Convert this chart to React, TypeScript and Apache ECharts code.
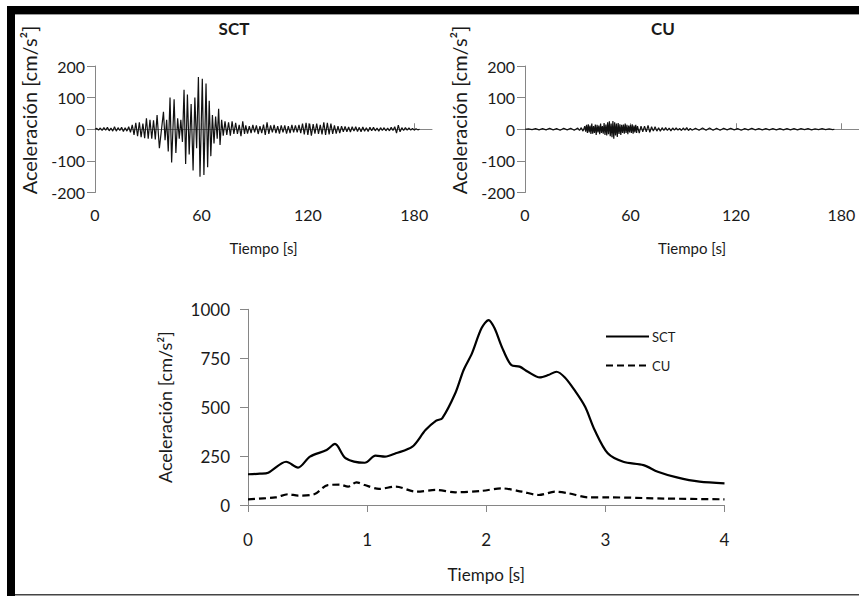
import React, { useEffect, useRef } from "react";
import * as echarts from "echarts";

// Top-left: SCT acceleration record [time s, acc cm/s2]
const sctTrace: [number, number][] = [
  [0,0],[1,3],[2,-3],[3,4],[4,-4],[5,5],[6,-3],[7,6],[8,-5],[9,4],[10,-6],[11,8],[12,-6],[13,5],[14,-4],[15,6],[16,-7],[17,5],[18,-6],[19,8],
  [20,-10],[21,14],[22,-18],[23,20],[24,-22],[25,22],[26,-25],[27,18],[28,-28],[29,35],[30,-30],[31,30],[32,-30],[33,28],[34,-32],[35,45],
  [36.3,-60],[38.6,55],[39.5,-35],[40.4,30],[41.3,-70],[42.3,100],[43.2,-105],[44.6,95],[45.6,-75],[46.6,35],[47.5,-30],[48.4,30],[49.3,-40],
  [50.2,125],[51.1,-110],[52.1,110],[53.1,-80],[54.2,80],[55.3,-130],[56.3,100],[57.3,-60],[58.3,165],[59.2,-150],[60.5,160],[61.4,-145],
  [62.6,145],[63.5,-120],[64.4,90],[65.3,-85],[66.2,45],[67.1,-45],[68,40],[68.9,-30],[69.7,65],[70.5,-50],[71.4,30],[72.3,-20],[73.3,25],
  [74.3,-18],[75.3,22],[76.3,-20],[77.3,25],[78.3,-15],[79.3,20],[80.3,-15],[81.3,14],[82.3,-22],[83.3,25],[84.3,-15],
  [85,12],[86,-14],[87,10],[88,-12],[89,14],[90,-10],[91,12],[92,-15],[93,10],[94,-12],[95,15],[96,-18],[97,22],[98,-15],[99,12],
  [100,-10],[101,14],[102,-12],[103,10],[104,-14],[105,12],[106,-10],[107,12],[108,-14],[109,10],[110,-12],[111,14],[112,-10],[113,12],
  [114,-10],[115,14],[116,-12],[117,18],[118,-16],[119,20],[120,-18],[121,18],[122,-20],[123,16],[124,-14],[125,18],[126,-15],[127,14],
  [128,-16],[129,22],[130,-18],[131,20],[132,-16],[133,18],[134,-15],[135,12],[136,-14],[137,10],[138,-12],[139,10],[140,-8],[141,9],
  [142,-8],[143,7],[144,-9],[145,8],[146,-6],[147,8],[148,-7],[149,6],[150,-8],[151,7],[152,-6],[153,5],[154,-7],[155,6],[156,-5],
  [157,6],[158,-5],[159,4],[160,-6],[161,5],[162,-4],[163,5],[164,-5],[165,4],[166,-5],[167,6],[168,-4],[169,8],[170,-12],[171,13],
  [172,-8],[173,5],[174,-4],[175,5],[176,-3],[177,4],[178,-3],[179,3],[180,-3],[181,2],[182,-2],[183,0]
];

// Top-right: CU acceleration record [time s, acc cm/s2]
const cuTrace: [number, number][] = [
  [0,0],[2,1],[4,-1],[6,2],[8,-2],[10,2],[12,-2],[14,3],[16,-2],[18,2],[20,-3],[22,3],[24,-2],[26,3],[28,-3],[30,4],[31,-4],[32,5],[33,-6],
  [34,10],[34.5,-8],[35,14],[35.5,-12],[36,16],[36.5,-10],[37,12],[37.5,-15],[38,18],[38.5,-14],[39,10],[39.5,-12],[40,15],[40.5,-18],
  [41,14],[41.5,-10],[42,12],[42.5,-16],[43,18],[43.5,-12],[44,10],[44.5,-14],[45,20],[45.5,-18],[46,15],[46.5,-20],[47,22],[47.5,-16],
  [48,25],[48.5,-22],[49,18],[49.5,-25],[50,26],[50.5,-30],[51,22],[51.5,-20],[52,18],[52.5,-24],[53,20],[53.5,-15],[54,16],[54.5,-18],
  [55,14],[55.5,-12],[56,15],[56.5,-14],[57,18],[57.5,-12],[58,14],[58.5,-16],[59,12],[59.5,-10],[60,14],[60.5,-12],[61,16],[61.5,-14],
  [62,12],[62.5,-10],[63,14],[63.5,-12],[64,10],[65,-12],[66,10],[67,-8],[68,10],[69,-8],[70,12],[71,-10],[72,8],[73,-6],[74,8],[75,-6],
  [76,5],[77,-6],[78,5],[79,-4],[80,5],[81,-4],[82,4],[83,-5],[84,4],[85,-3],[86,4],[87,-3],[88,3],[89,-4],[90,4],[91,-3],[92,5],[93,-4],
  [94,3],[95,-3],[97,3],[99,-3],[101,4],[103,-3],[105,4],[107,-3],[109,3],[111,-3],[113,3],[115,-2],[117,3],[119,-2],[121,2],[123,-3],
  [125,2],[127,-2],[129,3],[131,-2],[133,2],[135,-2],[137,2],[139,-2],[141,2],[143,-2],[145,2],[147,-2],[149,2],[151,-2],[153,2],[155,-2],
  [157,2],[159,-1],[161,2],[163,-2],[165,1],[167,-1],[169,2],[171,-1],[173,1],[175,-1],[176,0]
];

// Bottom: response spectra
const sctSpecT = [0, 0.1, 0.17, 0.32, 0.42, 0.52, 0.66, 0.73, 0.82, 0.98, 1.07, 1.15, 1.24, 1.38, 1.49, 1.58, 1.63, 1.74, 1.81, 1.88, 1.96, 2.02, 2.07, 2.13, 2.21, 2.28, 2.35, 2.45, 2.52, 2.59, 2.66, 2.74, 2.83, 2.91, 3.02, 3.15, 3.32, 3.44, 3.6, 3.79, 4.0];
const sctSpecA = [157, 160, 165, 221, 191, 247, 281, 312, 239, 216, 252, 247, 264, 298, 383, 431, 443, 571, 690, 775, 903, 945, 903, 809, 715, 707, 681, 652, 664, 681, 652, 588, 502, 383, 264, 221, 204, 170, 141, 119, 111];
const cuSpecT = [0, 0.23, 0.34, 0.42, 0.56, 0.67, 0.77, 0.84, 0.91, 0.98, 1.1, 1.24, 1.41, 1.58, 1.74, 1.96, 2.13, 2.3, 2.44, 2.58, 2.69, 2.86, 3.02, 3.5, 4.0];
const cuSpecA = [29, 39, 55, 48, 56, 102, 104, 94, 116, 102, 82, 94, 68, 77, 65, 72, 85, 68, 51, 68, 60, 39, 39, 33, 29];

const topTimeTicks = [0, 60, 120, 180];
const topAccTicks = [-200, -100, 0, 100, 200];
const yTitle = "Aceleración [cm/s²]";

const FONT = "Lato";
const TXT = "#1a1a1a";
const AXC = "#868686";

export default function App() {
  const ref = useRef<HTMLDivElement>(null);
  useEffect(() => {
    if (!ref.current) return;
    const chart = echarts.init(ref.current, undefined, { renderer: "svg" });
    const topX = (idx: number) => ({
      type: "value",
      gridIndex: idx,
      min: 0,
      max: 190,
      name: "Tiempo [s]",
      nameLocation: "middle",
      nameGap: 48,
      nameTextStyle: { fontSize: 15, color: TXT, fontFamily: FONT },
      axisLine: { show: true, lineStyle: { color: AXC, width: 1 } },
      axisTick: { show: true, inside: true, length: 6, customValues: topTimeTicks, lineStyle: { color: AXC } },
      axisLabel: { customValues: topTimeTicks, margin: 14, fontSize: 16, color: TXT, fontFamily: FONT },
      splitLine: { show: false },
    });
    const topY = (idx: number) => ({
      type: "value",
      gridIndex: idx,
      min: topAccTicks[0],
      max: topAccTicks[topAccTicks.length - 1],
      interval: 100,
      axisLine: { show: true, lineStyle: { color: AXC, width: 1 } },
      axisTick: { show: true, inside: false, length: 8, lineStyle: { color: AXC } },
      axisLabel: { margin: 10, fontSize: 16, color: TXT, fontFamily: FONT },
      splitLine: { show: false },
    });
    const yTitleText = (x: number, y: number, size: number) => ({
      type: "text",
      x,
      y,
      rotation: Math.PI / 2,
      style: {
        text: yTitle,
        fontSize: size,
        fontFamily: FONT,
        fill: TXT,
        align: "center",
        verticalAlign: "middle",
      },
    });
    const option: any = {
      animation: false,
      backgroundColor: "#ffffff",
      textStyle: { fontFamily: FONT },
      title: [
        { text: "SCT", left: 229, top: 15, textAlign: "center", textStyle: { fontSize: 17, fontWeight: "bold", color: TXT, fontFamily: FONT } },
        { text: "CU", left: 658, top: 15, textAlign: "center", textStyle: { fontSize: 17, fontWeight: "bold", color: TXT, fontFamily: FONT } },
      ],
      legend: {
        data: ["SCT", "CU"],
        orient: "vertical",
        left: 600,
        top: 325,
        itemWidth: 43,
        itemHeight: 14,
        itemGap: 16,
        itemStyle: { opacity: 0 },
        textStyle: { fontSize: 13, color: TXT, fontFamily: FONT, padding: [0, 0, 0, -2] },
      },
      grid: [
        { left: 95, top: 66, width: 337, height: 126.5 },
        { left: 525, top: 66, width: 337, height: 126.5 },
        { left: 248, top: 309.3, width: 476.5, height: 195.7 },
      ],
      xAxis: [
        topX(0),
        topX(1),
        {
          type: "value",
          gridIndex: 2,
          min: 0,
          max: 4,
          interval: 1,
          name: "Tiempo [s]",
          nameLocation: "middle",
          nameGap: 61,
          nameTextStyle: { fontSize: 17, color: TXT, fontFamily: FONT },
          axisLine: { show: true, lineStyle: { color: AXC, width: 1 } },
          axisTick: { show: true, inside: false, length: 7, lineStyle: { color: AXC } },
          axisLabel: { margin: 26, fontSize: 17, color: TXT, fontFamily: FONT },
          splitLine: { show: false },
        },
      ],
      yAxis: [
        topY(0),
        topY(1),
        {
          type: "value",
          gridIndex: 2,
          min: 0,
          max: 1000,
          interval: 250,
          name: yTitle,
          nameLocation: "middle",
          nameRotate: 90,
          nameGap: 74,
          nameTextStyle: { fontSize: 18, color: TXT, fontFamily: FONT },
          axisLine: { show: true, lineStyle: { color: AXC, width: 1 } },
          axisTick: { show: true, inside: false, length: 8, lineStyle: { color: AXC } },
          axisLabel: { margin: 18, fontSize: 17, color: TXT, fontFamily: FONT, formatter: (v: number) => String(v) },
          splitLine: { show: false },
        },
      ],
      series: [
        {
          name: "SCT registro",
          type: "line",
          xAxisIndex: 0,
          yAxisIndex: 0,
          data: sctTrace,
          symbol: "none",
          silent: true,
          lineStyle: { color: "#111", width: 1.2 },
        },
        {
          name: "CU registro",
          type: "line",
          xAxisIndex: 1,
          yAxisIndex: 1,
          data: cuTrace,
          symbol: "none",
          silent: true,
          lineStyle: { color: "#111", width: 1.2 },
        },
        {
          name: "SCT",
          type: "line",
          xAxisIndex: 2,
          yAxisIndex: 2,
          data: sctSpecT.map((t, i) => [t, sctSpecA[i]]),
          symbol: "none",
          smooth: 0.3,
          itemStyle: { color: "#000" },
          lineStyle: { color: "#000", width: 2.2 },
        },
        {
          name: "CU",
          type: "line",
          xAxisIndex: 2,
          yAxisIndex: 2,
          data: cuSpecT.map((t, i) => [t, cuSpecA[i]]),
          symbol: "none",
          smooth: 0.3,
          itemStyle: { color: "#000" },
          lineStyle: { color: "#000", width: 2.2, type: [7, 4] },
        },
      ],
      graphic: [
        yTitleText(29, 110, 20),
        yTitleText(459, 110, 20),
        { type: "rect", shape: { x: 7, y: 6, width: 852, height: 8 }, style: { fill: "#000" }, z: 100 },
        { type: "rect", shape: { x: 15, y: 14, width: 844, height: 1 }, style: { fill: "#9a9a9a" }, z: 100 },
        { type: "rect", shape: { x: 7, y: 6, width: 8, height: 590 }, style: { fill: "#000" }, z: 100 },
        { type: "rect", shape: { x: 15, y: 594, width: 844, height: 1.5 }, style: { fill: "#444" }, z: 100 },
      ],
    };
    chart.setOption(option);
    return () => chart.dispose();
  }, []);
  return (
    <div
      ref={ref}
      style={{ position: "fixed", left: 0, top: 0, width: 859, height: 596, background: "#fff" }}
    />
  );
}
